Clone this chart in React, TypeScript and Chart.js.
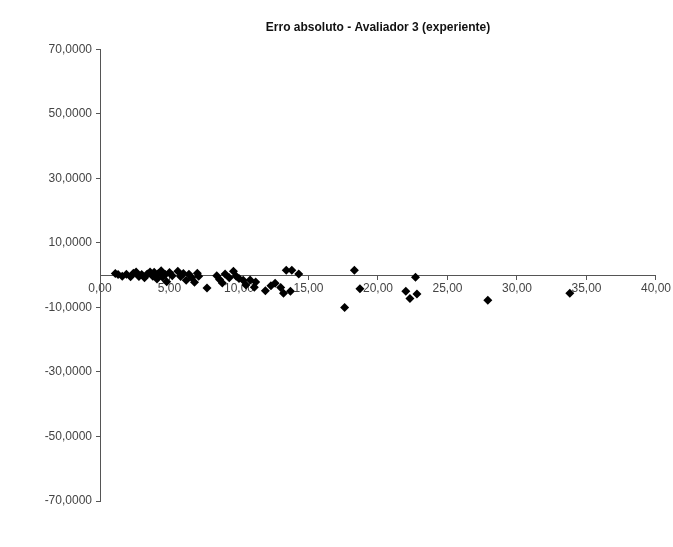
import React, { useEffect, useRef } from "react";
import { Chart, registerables } from "chart.js";

Chart.register(...registerables);

const TITLE = "Erro absoluto - Avaliador 3 (experiente)";

const xValues: number[] = [
  1.1, 1.3, 1.6, 1.9, 2.2, 2.4, 2.6, 2.8, 3.0, 3.2, 3.4, 3.6, 3.8, 3.9, 4.1, 4.2, 4.4, 4.5, 4.7, 4.8, 5.0, 5.2,
  5.6, 5.8, 6.0, 6.2, 6.4, 6.6, 6.8, 7.0, 7.1, 7.7,
  8.4, 8.6, 8.8, 9.0, 9.3, 9.6, 9.8, 10.0, 10.3, 10.5, 10.8, 11.1, 11.2, 11.9, 12.3, 12.6, 13.0, 13.2, 13.4, 13.8, 13.7, 14.3,
  17.6, 18.3, 18.7, 22.0, 22.3, 22.8, 22.7, 27.9, 33.8,
];

const yValues: number[] = [
  0.5, 0.2, -0.3, 0.3, -0.5, 0.6, 1.0, -0.4, 0.2, -0.8, 0.4, 1.0, -0.3, 0.9, -1.2, 0.5, 1.4, -0.6, 0.2, -2.0, 0.8, -0.2,
  1.2, -0.4, 0.5, -1.6, 0.3, -0.8, -2.2, 0.6, -0.3, -4.0,
  -0.2, -1.3, -2.4, 0.4, -0.8, 1.2, -0.3, -1.0, -1.6, -3.0, -1.5, -3.7, -2.1, -4.8, -3.3, -2.5, -3.8, -5.6, 1.5, 1.5, -5.0, 0.4,
  -10.0, 1.5, -4.2, -5.0, -7.2, -5.8, -0.6, -7.8, -5.6,
];

const yTicks: number[] = [-70, -50, -30, -10, 10, 30, 50, 70];
const xTicks: number[] = [0, 5, 10, 15, 20, 25, 30, 35, 40];

const FONT = "'Liberation Sans', Arial, sans-serif";

export default function App() {
  const ref = useRef<HTMLCanvasElement | null>(null);

  useEffect(() => {
    if (!ref.current) return;
    const points = xValues.map((x, i) => ({ x, y: yValues[i] }));
    const chart = new Chart(ref.current, {
      type: "scatter",
      data: {
        datasets: [
          {
            data: points,
            backgroundColor: "#000",
            borderColor: "#000",
            pointStyle: "rectRot",
            pointRadius: 4.5,
            borderWidth: 0,
          },
        ],
      },
      options: {
        animation: false,
        responsive: false,
        maintainAspectRatio: false,
        layout: { padding: { left: 0, right: 17, bottom: 46, top: 0 } },
        plugins: {
          legend: { display: false },
          tooltip: { enabled: false },
          title: {
            display: true,
            fullSize: false,
            text: TITLE,
            color: "#111",
            font: { family: FONT, size: 12, weight: "bold" },
            padding: { top: 20, bottom: 15 },
          },
        },
        scales: {
          x: {
            type: "linear",
            position: { y: 0 } as any,
            min: 0,
            max: 40,
            afterBuildTicks: (s: any) => {
              s.ticks = xTicks.map((v) => ({ value: v }));
            },
            ticks: {
              color: "#444",
              font: { family: FONT, size: 12 },
              padding: 2,
              maxRotation: 0,
              autoSkip: false,
              callback: (v: any) => Number(v).toFixed(2).replace(".", ","),
            },
            grid: { drawOnChartArea: false, drawTicks: true, tickLength: 4, color: "#555" },
            border: { color: "#555", width: 1 },
          },
          y: {
            type: "linear",
            min: -70,
            max: 70,
            afterBuildTicks: (s: any) => {
              s.ticks = yTicks.map((v) => ({ value: v }));
            },
            afterFit: (s: any) => {
              s.width = 100;
            },
            ticks: {
              color: "#444",
              font: { family: FONT, size: 12 },
              padding: 4,
              autoSkip: false,
              callback: (v: any) => Number(v).toFixed(4).replace(".", ","),
            },
            grid: { drawOnChartArea: false, drawTicks: true, tickLength: 4, color: "#555" },
            border: { color: "#555", width: 1 },
          },
        },
      },
    });
    return () => chart.destroy();
  }, []);

  return (
    <div style={{ position: "fixed", left: 0, top: 0, width: 673, height: 547, background: "#fff" }}>
      <canvas ref={ref} width={673} height={547} style={{ width: 673, height: 547, display: "block" }} />
    </div>
  );
}
